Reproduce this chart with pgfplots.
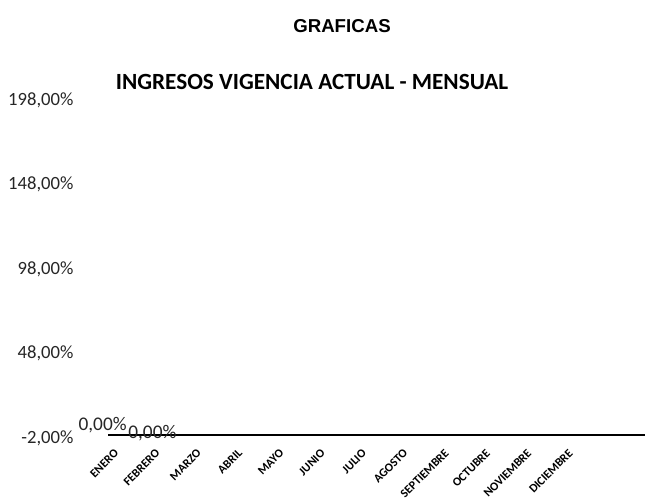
\documentclass[border=0pt]{standalone}
\usepackage{pgfplots}
\pgfplotsset{compat=1.18}
\usepackage{fontspec}
\setmainfont{Carlito}
\newfontfamily\arialfont{Liberation Sans}
\begin{document}
\begin{tikzpicture}[x=0.75pt,y=0.75pt]
\useasboundingbox (0,0) rectangle (670,503);
\node[font=\arialfont\bfseries\fontsize{14}{16}\selectfont] at (342,477) {GRAFICAS};
\node[font=\bfseries\fontsize{17.4}{20}\selectfont] at (312,421) {INGRESOS VIGENCIA ACTUAL - MENSUAL};
\begin{axis}[
  at={(65.55pt,48.75pt)}, anchor=south west,
  scale only axis, width=433.65pt, height=253.5pt,
  xmin=-0.5, xmax=13.5, ymin=-2, ymax=198,
  axis line style={draw=none},
  major tick length=0pt,
  xtick={0,...,11},
  xticklabels={ENERO,FEBRERO,MARZO,ABRIL,MAYO,JUNIO,JULIO,AGOSTO,SEPTIEMBRE,OCTUBRE,NOVIEMBRE,DICIEMBRE},
  x tick label style={font=\bfseries\fontsize{9}{11}\selectfont, rotate=45, anchor=east, inner sep=0pt, xshift=-2.5pt, yshift=-11.5pt},
  ytick={-2,48,98,148,198},
  yticklabels={{-2,00\%},{48,00\%},{98,00\%},{148,00\%},{198,00\%}},
  y tick label style={font=\fontsize{14}{16}\selectfont, color=black!85, xshift=-6.9pt},
  clip=false,
]
\addplot[black, line width=1.5pt] coordinates {(0,0)(1,0)(2,0)(3,0)(4,0)(5,0)(6,0)(7,0)(8,0)(9,0)(10,0)(11,0)(12,0)(13,0)};
\addplot[draw=none, nodes near coords={0,00\%}, every node near coord/.append style={font=\fontsize{14.5}{16}\selectfont, color=black!85, anchor=center, xshift=-4.1pt, yshift=7.2pt}] coordinates {(0,0)};
\addplot[draw=none, nodes near coords={0,00\%}, every node near coord/.append style={font=\fontsize{14.5}{16}\selectfont, color=black!85, anchor=center, xshift=2.25pt, yshift=1.2pt}] coordinates {(1,0)};
\end{axis}
\end{tikzpicture}
\end{document}
